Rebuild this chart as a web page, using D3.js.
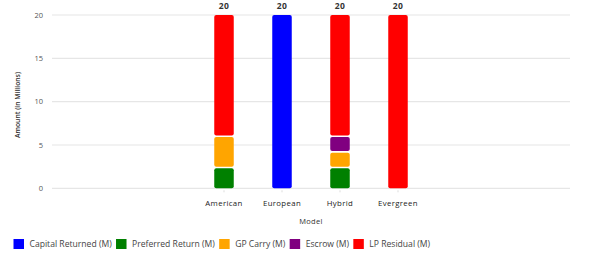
<!DOCTYPE html>
<html><head><meta charset="utf-8">
<script src="https://cdn.jsdelivr.net/npm/d3@7"></script>
<style>body{margin:0;background:#fff;} text{font-family:"Open Sans",Lato,sans-serif;}</style>
</head><body><svg id="c" width="605" height="256"></svg>
<script>
const categories = ["American","European","Hybrid","Evergreen"];
const seriesNames = ["Capital Returned (M)","Preferred Return (M)","GP Carry (M)","Escrow (M)","LP Residual (M)"];
const capitalReturned = [0,20,0,0];
const preferredReturn = [2.4,0,2.4,0];
const gpCarry = [3.6,0,1.8,0];
const escrow = [0,0,1.8,0];
const lpResidual = [14,0,14,20];
const yTicks = [0,5,10,15,20];
const colors = ["#0000ff","#008000","#ffa500","#800080","#ff0000"];

(function(){
const series = [capitalReturned,preferredReturn,gpCarry,escrow,lpResidual];
const data = categories.map((c,i)=>{const o={cat:c}; seriesNames.forEach((s,k)=>o[s]=series[k][i]); return o;});
const stack = d3.stack().keys(seriesNames)(data);

const svg = d3.select("#c");
const pl=52,pr=570,pt=15,pb=188.3;
const x = d3.scalePoint().domain(categories).range([195,427]).padding(0.5);
const y = d3.scaleLinear().domain([0,20]).range([pb,pt]);
const bw = 19.5;

svg.append("g").selectAll("line").data(yTicks).join("line")
  .attr("x1",pl).attr("x2",pr).attr("y1",d=>y(d)).attr("y2",d=>y(d))
  .attr("stroke","#e6e6e6").attr("stroke-width",1.2);
svg.append("g").selectAll("text").data(yTicks).join("text")
  .attr("x",43).attr("y",d=>y(d)).attr("dy","0.35em").attr("text-anchor","end")
  .attr("font-size",7.5).attr("fill","#555").text(d=>d);
svg.append("g").selectAll("line").data(categories).join("line")
  .attr("x1",d=>x(d)).attr("x2",d=>x(d)).attr("y1",pb+2).attr("y2",pb+4)
  .attr("stroke","#ddd");
svg.append("g").selectAll("text").data(categories).join("text")
  .attr("x",d=>x(d)).attr("y",203).attr("dy","0.35em").attr("text-anchor","middle")
  .attr("font-size",7.8).attr("letter-spacing",0.35).attr("fill","#222").text(d=>d);

const gap=0.8;
stack.forEach((s,k)=>{
  svg.append("g").selectAll("rect").data(s.filter(d=>d[1]-d[0]>0)).join("rect")
    .attr("x",d=>x(d.data.cat)-bw/2).attr("width",bw)
    .attr("y",d=>y(d[1])+(d[1]<20?gap:0))
    .attr("height",d=>y(d[0])-y(d[1])-(d[1]<20?gap:0)-(d[0]>0?gap:0))
    .attr("rx",2).attr("fill",colors[k]);
});
svg.append("g").selectAll("text").data(data).join("text")
  .attr("x",d=>x(d.cat)).attr("y",6.5).attr("dy","0.35em").attr("text-anchor","middle")
  .attr("font-size",8.5).attr("font-weight","bold").attr("letter-spacing",0.4).attr("fill","#333")
  .text(d=>d3.sum(seriesNames,s=>d[s]));

svg.append("text").attr("transform","translate(18,105) rotate(-90)").attr("text-anchor","middle")
  .attr("dy","0.35em").attr("font-size",6.8).attr("font-weight","600").attr("fill","#333").text("Amount (in Millions)");
svg.append("text").attr("x",311).attr("y",221).attr("dy","0.35em").attr("text-anchor","middle")
  .attr("font-size",7.5).attr("letter-spacing",0.3).attr("fill","#333").text("Model");

const lg = svg.append("g");
let lx = 13.5;
seriesNames.forEach((s,k)=>{
  lg.append("rect").attr("x",lx).attr("y",239).attr("width",10.5).attr("height",10).attr("fill",colors[k]);
  const t = lg.append("text").attr("x",lx+16).attr("y",244).attr("dy","0.35em")
    .attr("font-size",8.6).attr("fill","#444").text(s);
  lx += 16 + t.node().getComputedTextLength() + 4.3;
});
})();
</script></body></html>
